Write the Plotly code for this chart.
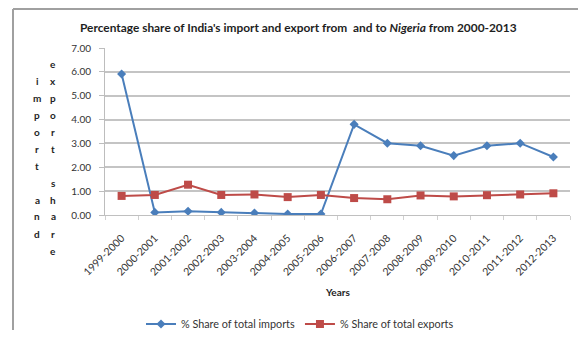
import plotly.graph_objects as go

years = ["1999-2000", "2000-2001", "2001-2002", "2002-2003", "2003-2004", "2004-2005",
         "2005-2006", "2006-2007", "2007-2008", "2008-2009", "2009-2010", "2010-2011",
         "2011-2012", "2012-2013"]
imports_share = [5.91, 0.11, 0.16, 0.11, 0.08, 0.04, 0.04, 3.80, 3.01, 2.90, 2.49, 2.90, 3.01, 2.43]
exports_share = [0.80, 0.84, 1.27, 0.84, 0.86, 0.75, 0.84, 0.71, 0.66, 0.82, 0.78, 0.83, 0.86, 0.91]
y_ticks = [0, 1, 2, 3, 4, 5, 6, 7]
title_text = "Percentage share of India's import and export from  and to <i>Nigeria</i> from 2000-2013"
ytitle_col1 = "import and"
ytitle_col2 = "export share"

# the page body adds an 8px margin: lay out in page pixels, convert to figure pixels
OFF = 8
W, H = 586 - 2 * OFF, 338 - 2 * OFF
PL, PR, PT, PB = 105, 570, 48, 215  # plot area in page pixels
L, T = PL - OFF, PT - OFF
R = W - (PR - OFF)
B = H - (PB - OFF)
pw, ph = PR - PL, PB - PT

def px(x):
    return (x - PL) / pw

def py(y):
    return (PB - y) / ph

FONT = "Lato, Open Sans, sans-serif"
TXT = "#1e1e1e"
fig = go.Figure()
fig.add_trace(go.Scatter(x=years, y=imports_share, mode="lines+markers",
                         name="% Share of total imports",
                         line=dict(color="#4a7ebb", width=2),
                         marker=dict(symbol="diamond", size=7, color="#4a7ebb")))
fig.add_trace(go.Scatter(x=years, y=exports_share, mode="lines+markers",
                         name="% Share of total exports",
                         line=dict(color="#be4b48", width=2),
                         marker=dict(symbol="square", size=8, color="#be4b48")))

annotations = []
for col_text, xpix in ((ytitle_col1, 37), (ytitle_col2, 53)):
    n = len(col_text)
    center = 157
    step = 17
    start = center - step * (n - 1) / 2
    for i, ch in enumerate(col_text):
        if ch == " ":
            continue
        annotations.append(dict(text="<b>" + ch + "</b>", x=px(xpix), y=py(start + i * step),
                                xref="paper", yref="paper",
                                showarrow=False, xanchor="center", yanchor="middle",
                                font=dict(family=FONT, size=10, color=TXT)))
annotations.append(dict(text="<b>Years</b>", x=0.5, y=py(292), xref="paper", yref="paper",
                        showarrow=False, xanchor="center", yanchor="middle",
                        font=dict(family=FONT, size=10, color=TXT)))
annotations.append(dict(text="<b>" + title_text + "</b>", x=px(298), y=py(27), xref="paper", yref="paper",
                        showarrow=False, xanchor="center", yanchor="middle",
                        font=dict(family=FONT, size=11.9, color=TXT)))

frame = dict(color="#a0a0a0", width=2)
fig.update_layout(
    width=W, height=H,
    margin=dict(l=L, r=R, t=T, b=B, autoexpand=False),
    paper_bgcolor="white", plot_bgcolor="white",
    xaxis=dict(type="category", tickangle=-45, showgrid=False, showline=True,
               linecolor="#c0c0c0", linewidth=1, ticks="outside", tickson="boundaries",
               ticklen=4, tickcolor="#d0d0d0", ticklabelstandoff=12,
               tickfont=dict(family=FONT, size=10.5, color="#333333"), range=[-0.5, len(years) - 0.5]),
    yaxis=dict(range=[0, 7], tickvals=y_ticks, tickformat=".2f", showgrid=True,
               gridcolor="#c4c4c4", gridwidth=1.5, zeroline=False, showline=True,
               linecolor="#bdbdbd", linewidth=1, ticks="outside", ticklen=5, tickcolor="#bdbdbd",
               ticklabelstandoff=6,
               tickfont=dict(family=FONT, size=10, color="#333333")),
    legend=dict(orientation="h", x=px(300), xanchor="center", y=py(324), yanchor="middle",
                font=dict(family=FONT, size=10.8, color="#333333"), itemwidth=30),
    showlegend=True,
    annotations=annotations,
    shapes=[
        dict(type="line", xref="paper", yref="paper", x0=px(13), x1=px(13), y0=py(9), y1=py(345), line=frame),
        dict(type="line", xref="paper", yref="paper", x0=px(13), x1=px(590), y0=py(9), y1=py(9), line=frame),
    ],
)
fig.write_html("out.html")
